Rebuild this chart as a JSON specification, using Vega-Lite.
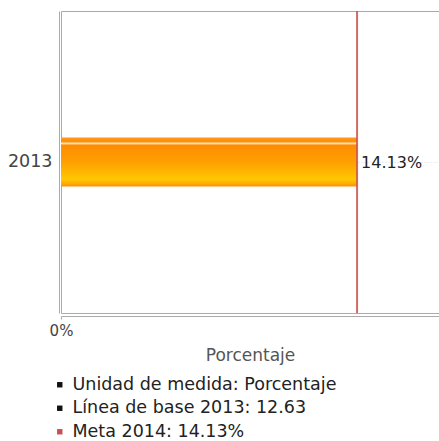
{
  "$schema": "https://vega.github.io/schema/vega-lite/v6.json",
  "autosize": "none",
  "padding": {"left": 61, "top": 11, "right": 0, "bottom": 128},
  "width": 378,
  "height": 302,
  "background": "white",
  "config": {
    "font": "DejaVu Sans",
    "view": {"stroke": "#aaaaaa", "strokeWidth": 1}
  },
  "datasets": {
    "avance": [{"anio": "2013", "valor": 14.13, "texto": "14.13%"}],
    "meta": [{"etiqueta": "Meta 2014: 14.13%", "valor": 14.13}]
  },
  "layer": [
    {
      "data": {"name": "avance"},
      "mark": {
        "type": "bar",
        "size": 49,
        "color": {
          "gradient": "linear",
          "x1": 0, "y1": 0, "x2": 0, "y2": 1,
          "stops": [
            {"offset": 0, "color": "#ff9a20"},
            {"offset": 0.08, "color": "#ff8c00"},
            {"offset": 0.12, "color": "#ffe2b8"},
            {"offset": 0.16, "color": "#ff8c00"},
            {"offset": 0.5, "color": "#ffa000"},
            {"offset": 0.86, "color": "#ffc800"},
            {"offset": 0.94, "color": "#ffaa00"},
            {"offset": 1, "color": "#ff9000"}
          ]
        }
      },
      "encoding": {
        "y": {
          "field": "anio",
          "type": "nominal",
          "axis": {
            "title": null,
            "offset": 2,
            "domainColor": "#aaaaaa",
            "ticks": false,
            "tickSize": 0,
            "labelFontSize": 17.5,
            "labelColor": "#444444",
            "labelPadding": 7,
            "grid": true,
            "gridColor": "#dddddd",
            "gridDash": [1, 2],
            "bandPosition": 0.5
          }
        },
        "x": {
          "field": "valor",
          "type": "quantitative",
          "scale": {"domain": [0, 18.04], "nice": false},
          "axis": {
            "title": "Porcentaje",
            "values": [0],
            "labelExpr": "datum.value + '%'",
            "labelFlush": false,
            "offset": 3,
            "domainColor": "#aaaaaa",
            "tickSize": 3,
            "tickColor": "#aaaaaa",
            "labelFontSize": 15,
            "labelColor": "#444444",
            "labelPadding": 4,
            "grid": false,
            "titleFontSize": 17,
            "titleFontWeight": "normal",
            "titleColor": "#555555",
            "titlePadding": 9
          }
        }
      }
    },
    {
      "data": {"name": "avance"},
      "mark": {"type": "text", "align": "left", "baseline": "middle", "dx": 4, "dy": 1, "fontSize": 16, "color": "#222222"},
      "encoding": {
        "y": {"field": "anio", "type": "nominal"},
        "x": {"field": "valor", "type": "quantitative"},
        "text": {"field": "texto", "type": "nominal"}
      }
    },
    {
      "data": {"name": "meta"},
      "mark": {"type": "rule", "strokeWidth": 2, "opacity": 0.85},
      "encoding": {
        "x": {"field": "valor", "type": "quantitative"},
        "color": {
          "field": "etiqueta",
          "type": "nominal",
          "scale": {
            "domain": ["Unidad de medida: Porcentaje", "Línea de base 2013: 12.63", "Meta 2014: 14.13%"],
            "range": ["#111111", "#111111", "#c9504f"]
          },
          "legend": {
            "title": null,
            "orient": "none",
            "legendX": -10,
            "legendY": 365,
            "direction": "vertical",
            "symbolType": "square",
            "symbolSize": 2,
            "symbolStrokeWidth": 4,
            "symbolOpacity": 1,
            "labelFontSize": 17.5,
            "labelColor": "#222222",
            "labelOffset": 4,
            "rowPadding": 4.5,
            "padding": 0,
            "labelLimit": 400
          }
        }
      }
    }
  ]
}
